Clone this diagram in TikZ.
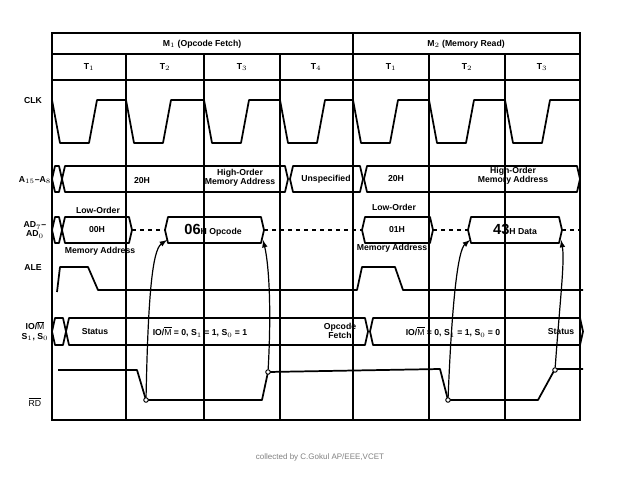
\documentclass[tikz,border=0pt]{standalone}
\usepackage{fontspec}
\setmainfont{Liberation Sans}
\begin{document}
\begin{tikzpicture}[x=0.75pt,y=-0.75pt,line width=1.1pt,
  lbl/.style={font=\fontsize{6.5}{7}\selectfont\bfseries,inner sep=0.5pt},
  sig/.style={line width=1.3pt,line join=round},
  arr/.style={line width=0.9pt,-latex}]
\useasboundingbox (0,0) rectangle (638,478);
\def\hex#1#2#3#4{\draw[sig] (#1+3,#3)--(#2-3,#3)--(#2,{(#3+#4)/2})--(#2-3,#4)--(#1+3,#4)--(#1,{(#3+#4)/2})--cycle;}
% frame and header
\draw (52,33) rectangle (580,420);
\draw (52,54)--(580,54) (52,80)--(580,80);
\draw (353,33)--(353,54);
\foreach \x in {126,204,280,353,429,505} \draw[line width=0.8pt] (\x,54)--(\x,420);
\node[lbl] (m1) at (202,44) {M$_1$ (Opcode Fetch)};
\node[lbl] (m2) at (466,44) {M$_2$ (Memory Read)};
\foreach \x/\t in {89/T$_1$,165/T$_2$,242/T$_3$,316/T$_4$,391/T$_1$,467/T$_2$,542/T$_3$}
  \node[lbl] at (\x,67) {\t};
% labels
\node[lbl] (clk) at (33,101) {CLK};
\node[lbl] (abus) at (35,180) {A$_{15}$--A$_8$};
\node[lbl,align=center] (adbus) at (35,230) {AD$_7$--\\AD$_0$};
\node[lbl] (ale) at (33,268) {ALE};
\node[lbl,align=center] (iom) at (35,331) {IO/$\overline{\mathrm{M}}$\\S$_1$, S$_0$};
\node[lbl] (rd) at (35,402) {$\overline{\mathrm{RD}}$};
% CLK
\draw[sig] (52,100) \foreach \a/\b in {52/126,126/204,204/280,280/353,353/429,429/505,505/580}{
 -- (\a+8,143) -- (\a+37,143) -- (\a+45,100) -- (\b,100)};
% A bus
\hex{52}{62}{166}{192}
\hex{62}{288}{166}{192}
\hex{290}{363}{166}{192}
\hex{364}{580}{166}{192}
\node[lbl] at (142,181) {20H};
\node[lbl,align=center] at (240,178) {High-Order\\Memory Address};
\node[lbl] at (326,179) {Unspecified};
\node[lbl] at (396,179) {20H};
\node[lbl,align=center] at (513,176) {High-Order\\Memory Address};
% AD bus
\hex{52}{62}{217}{243}
\hex{62}{132}{217}{243}
\hex{165}{264}{217}{243}
\hex{362}{433}{217}{243}
\hex{468}{562}{217}{243}
\draw[dashed,line width=0.9pt] (132,230)--(165,230) (264,230)--(362,230) (433,230)--(468,230) (562,230)--(580,230);
\node[lbl] at (97,230) {00H};
\node[lbl] at (213,230) {{\fontsize{11}{11}\selectfont 06}H Opcode};
\node[lbl] at (397,230) {01H};
\node[lbl] at (515,229) {{\fontsize{11}{11}\selectfont 43}H Data};
\node[lbl] at (98,210) {Low-Order};
\node[lbl] at (100,251) {Memory Address};
\node[lbl] at (394,207) {Low-Order};
\node[lbl] at (392,248) {Memory Address};
\coordinate (d1) at (167,240); \coordinate (d2) at (263,240);
\coordinate (d3) at (470,240); \coordinate (d4) at (561,240);
% ALE
\draw[sig] (57,292)--(60,267)--(88,267)--(98,290)--(357,290)--(362,267)--(395,267)--(403,290)--(583,290);
% IO/M
\hex{52}{66}{318}{345}
\hex{66}{368}{318}{345}
\hex{370}{583}{318}{345}
\node[lbl] at (95,332) {Status};
\node[lbl] at (200,332) {IO/$\overline{\mathrm{M}}$ = 0, S$_1$ = 1, S$_0$ = 1};
\node[lbl,align=center] at (340,331) {Opcode\\Fetch};
\node[lbl] at (453,332) {IO/$\overline{\mathrm{M}}$ = 0, S$_1$ = 1, S$_0$ = 0};
\node[lbl] at (561,332) {Status};
% RD
\draw[sig] (58,370)--(137,370)--(146,400)--(262,400)--(268,372)--(440,369)--(448,400)--(538,400)--(555,369)--(583,369);
\foreach \p/\n in {{146,400}/r1,{268,372}/r2,{448,400}/r3,{555,370}/r4}
  \node[circle,draw,fill=white,inner sep=1.2pt,line width=0.7pt] (\n) at (\p) {};
\draw[arr] (r1) .. controls (148,300) and (152,250) .. (d1);
\draw[arr] (r2) .. controls (272,300) and (268,260) .. (d2);
\draw[arr] (r3) .. controls (452,300) and (458,250) .. (d3);
\draw[arr] (r4) .. controls (560,300) and (565,260) .. (d4);
\node[font=\fontsize{6}{6}\selectfont,text=gray] (foot) at (320,457) {collected by C.Gokul AP/EEE,VCET};
\end{tikzpicture}
\end{document}
